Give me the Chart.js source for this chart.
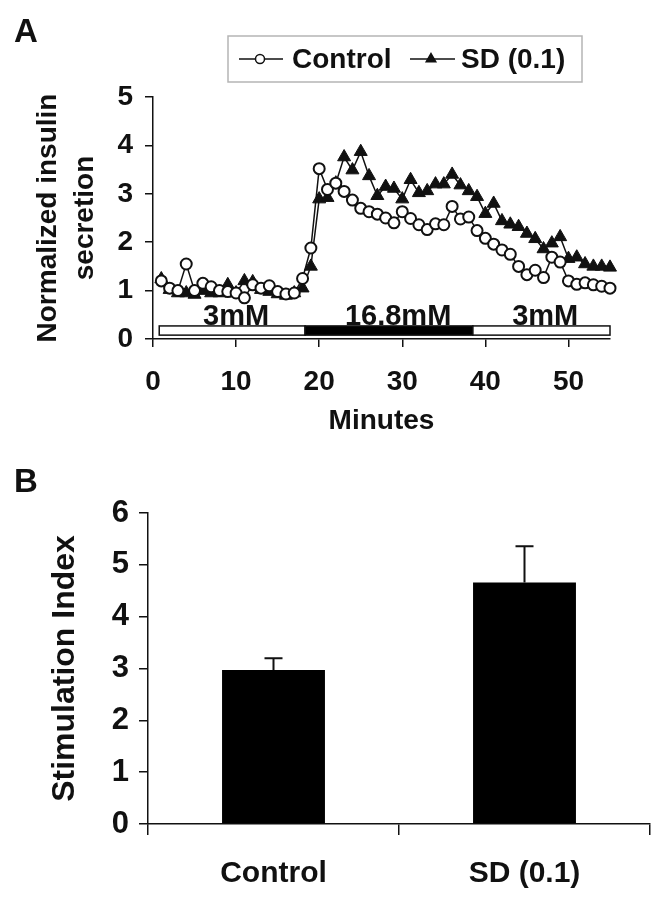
<!DOCTYPE html>
<html lang="en">
<head>
    <meta charset="UTF-8">
    <title>Insulin secretion</title>
    <style>
        body {
            margin: 0;
            background-color: #fff;
        }

        .panel {
            position: absolute;
            left: 0;
            width: 665px;
        }

        #panelA { top: 0; height: 450px; }
        #panelB { top: 450px; height: 460px; }
    </style>
</head>
<body>
    <div class="panel" id="panelA"><canvas id="perifusionChart"></canvas></div>
    <div class="panel" id="panelB"><canvas id="stimulationChart"></canvas></div>

    <script src="https://cdn.jsdelivr.net/npm/chart.js"></script>
    <script>
        // Panel A: perifusion time course
        const minutes = [1, 2, 3, 4, 5, 6, 7, 8, 9, 10, 11, 12, 13, 14, 15, 16, 17, 18, 19, 20,
            21, 22, 23, 24, 25, 26, 27, 28, 29, 30, 31, 32, 33, 34, 35, 36, 37, 38, 39, 40,
            41, 42, 43, 44, 45, 46, 47, 48, 49, 50, 51, 52, 53, 54, 55];
        const minuteTicks = [0, 10, 20, 30, 40, 50];
        const controlSecretion = [1.20, 1.05, 1.00, 1.55, 1.00, 1.15, 1.08, 1.00, 0.98, 0.95,
            0.85, 1.12, 1.05, 1.10, 0.98, 0.93, 0.95, 1.25, 1.88, 3.52,
            3.09, 3.22, 3.05, 2.87, 2.70, 2.63, 2.58, 2.50, 2.40, 2.63,
            2.49, 2.36, 2.26, 2.38, 2.36, 2.74, 2.48, 2.52, 2.24, 2.08,
            1.96, 1.84, 1.75, 1.50, 1.33, 1.42, 1.27, 1.69, 1.59, 1.20,
            1.13, 1.16, 1.12, 1.09, 1.05];
        const sdSecretion = [1.24, 1.02, 0.95, 0.95, 0.92, 1.00, 0.95, 0.95, 1.12, 0.95,
            1.20, 1.18, 1.02, 0.98, 0.93, 0.90, 0.95, 1.05, 1.50, 2.89,
            2.92, 3.22, 3.76, 3.49, 3.87, 3.37, 2.96, 3.15, 3.11, 2.89,
            3.29, 3.02, 3.06, 3.20, 3.20, 3.40, 3.18, 3.06, 2.94, 2.59,
            2.80, 2.44, 2.37, 2.32, 2.18, 2.07, 1.86, 1.98, 2.11, 1.66,
            1.69, 1.55, 1.50, 1.50, 1.48];

        // glucose bar under the traces
        const glucoseStart = [0.75, 18.3, 38.5];
        const glucoseEnd = [18.3, 38.5, 55];
        const glucoseFill = ['#ffffff', '#000000', '#ffffff'];
        const glucoseLabels = ['3mM', '16.8mM', '3mM'];
        const glucoseLabelAt = [10, 29.5, 47.2];
        const glucoseBarRange = [0.08, 0.27];

        // Panel B: stimulation index
        const groups = ['Control', 'SD (0.1)'];
        const stimIndex = [2.97, 4.66];
        const stimError = [0.23, 0.70];

        const FONT = "'Liberation Sans', Arial, sans-serif";
        const INK = '#111';

        const panelLetter = letter => ({
            id: 'panelLetter' + letter,
            afterDraw(chart) {
                const ctx = chart.ctx;
                ctx.save();
                ctx.font = 'bold 33px ' + FONT;
                ctx.fillStyle = INK;
                ctx.textBaseline = 'alphabetic';
                ctx.fillText(letter, 14, 42);
                ctx.restore();
            }
        });

        const glucoseBar = {
            id: 'glucoseBar',
            afterDatasetsDraw(chart) {
                const { ctx, scales: { x, y } } = chart;
                const top = y.getPixelForValue(glucoseBarRange[1]);
                const bottom = y.getPixelForValue(glucoseBarRange[0]);
                ctx.save();
                ctx.lineWidth = 1.5;
                ctx.strokeStyle = INK;
                glucoseStart.forEach((start, i) => {
                    const left = x.getPixelForValue(start);
                    const right = x.getPixelForValue(glucoseEnd[i]);
                    ctx.fillStyle = glucoseFill[i];
                    ctx.fillRect(left, top, right - left, bottom - top);
                    ctx.strokeRect(left, top, right - left, bottom - top);
                });
                ctx.font = 'bold 29px ' + FONT;
                ctx.fillStyle = INK;
                ctx.textAlign = 'center';
                ctx.textBaseline = 'alphabetic';
                glucoseLabels.forEach((label, i) => {
                    ctx.fillText(label, x.getPixelForValue(glucoseLabelAt[i]), top - 1);
                });
                ctx.restore();
            }
        };

        // boxed legend with line + marker samples
        const boxedLegend = {
            id: 'boxedLegend',
            afterDraw(chart) {
                const ctx = chart.ctx;
                ctx.save();
                ctx.strokeStyle = '#b5b5b5';
                ctx.lineWidth = 1.5;
                ctx.strokeRect(228, 36, 354, 46);
                const cy = 59;
                const samples = [
                    { x0: 239, x1: 283, mark: 260, text: 292, r: 4.5 },
                    { x0: 410, x1: 455, mark: 431, text: 461, r: 5.5 }
                ];
                chart.data.datasets.forEach((ds, i) => {
                    const s = samples[i];
                    ctx.strokeStyle = INK;
                    ctx.lineWidth = 1.5;
                    ctx.beginPath();
                    ctx.moveTo(s.x0, cy);
                    ctx.lineTo(s.x1, cy);
                    ctx.stroke();
                    ctx.fillStyle = ds.pointBackgroundColor;
                    ctx.strokeStyle = ds.pointBorderColor;
                    Chart.helpers.drawPoint(ctx, {
                        pointStyle: ds.pointStyle,
                        radius: s.r,
                        rotation: 0,
                        borderWidth: 1.5
                    }, s.mark, cy);
                    ctx.fillStyle = INK;
                    ctx.font = 'bold 28px ' + FONT;
                    ctx.textBaseline = 'middle';
                    ctx.fillText(ds.label, s.text, cy + 1);
                });
                ctx.restore();
            }
        };

        const errorBars = {
            id: 'errorBars',
            afterDatasetsDraw(chart) {
                const { ctx, scales: { y } } = chart;
                const meta = chart.getDatasetMeta(0);
                ctx.save();
                ctx.strokeStyle = INK;
                ctx.lineWidth = 2;
                meta.data.forEach((bar, i) => {
                    const top = y.getPixelForValue(stimIndex[i] + stimError[i]);
                    ctx.beginPath();
                    ctx.moveTo(bar.x, bar.y);
                    ctx.lineTo(bar.x, top);
                    ctx.moveTo(bar.x - 9, top);
                    ctx.lineTo(bar.x + 9, top);
                    ctx.stroke();
                });
                ctx.restore();
            }
        };

        const axisLine = { color: INK, width: 1.5 };
        const tickMarks = len => ({ drawOnChartArea: false, color: INK, lineWidth: 1.5, tickLength: len });

        new Chart(document.getElementById('perifusionChart'), {
            type: 'line',
            data: {
                datasets: [{
                    label: 'Control',
                    data: minutes.map((m, i) => ({ x: m, y: controlSecretion[i] })),
                    borderColor: INK,
                    borderWidth: 1.5,
                    pointStyle: 'circle',
                    pointRadius: 5.5,
                    pointBorderWidth: 2,
                    pointBackgroundColor: '#ffffff',
                    pointBorderColor: INK,
                    clip: false,
                    order: 0
                }, {
                    label: 'SD (0.1)',
                    data: minutes.map((m, i) => ({ x: m, y: sdSecretion[i] })),
                    borderColor: INK,
                    borderWidth: 1.5,
                    pointStyle: 'triangle',
                    pointRadius: 7.5,
                    pointBorderWidth: 1,
                    pointBackgroundColor: INK,
                    pointBorderColor: INK,
                    clip: false,
                    order: 1
                }]
            },
            options: {
                responsive: true,
                maintainAspectRatio: false,
                animation: false,
                layout: { padding: { top: 97, right: 55, bottom: 0, left: 0 } },
                plugins: { legend: { display: false }, tooltip: { enabled: false } },
                scales: {
                    x: {
                        type: 'linear',
                        min: 0,
                        max: 55,
                        border: axisLine,
                        grid: tickMarks(8),
                        ticks: { color: INK, padding: 18, font: { family: FONT, size: 28, weight: 'bold' } },
                        afterBuildTicks: s => { s.ticks = minuteTicks.map(v => ({ value: v })); },
                        afterFit: s => { s.height = 111; },
                        title: {
                            display: true,
                            text: 'Minutes',
                            color: INK,
                            padding: { top: 0, bottom: 12 },
                            font: { family: FONT, size: 28, weight: 'bold' }
                        }
                    },
                    y: {
                        min: 0,
                        max: 5,
                        border: axisLine,
                        grid: tickMarks(8),
                        ticks: { stepSize: 1, color: INK, padding: 12, font: { family: FONT, size: 28, weight: 'bold' } },
                        afterFit: s => { s.width = 153; },
                        title: {
                            display: true,
                            text: ['Normalized insulin', 'secretion'],
                            color: INK,
                            padding: { top: 29, bottom: 0 },
                            font: { family: FONT, size: 28, weight: 'bold', lineHeight: 1.35 }
                        }
                    }
                }
            },
            plugins: [glucoseBar, boxedLegend, panelLetter('A')]
        });

        new Chart(document.getElementById('stimulationChart'), {
            type: 'bar',
            data: {
                labels: groups,
                datasets: [{
                    label: 'Stimulation Index',
                    data: stimIndex,
                    backgroundColor: '#000000',
                    borderWidth: 0,
                    categoryPercentage: 1,
                    barPercentage: 0.41
                }]
            },
            options: {
                responsive: true,
                maintainAspectRatio: false,
                animation: false,
                layout: { padding: { top: 63, right: 15, bottom: 0, left: 0 } },
                plugins: { legend: { display: false }, tooltip: { enabled: false } },
                scales: {
                    x: {
                        border: axisLine,
                        grid: tickMarks(11),
                        ticks: { color: INK, padding: 21, font: { family: FONT, size: 30, weight: 'bold' } },
                        afterFit: s => { s.height = 86; }
                    },
                    y: {
                        min: 0,
                        max: 6,
                        border: axisLine,
                        grid: tickMarks(9),
                        ticks: { stepSize: 1, color: INK, padding: 10, font: { family: FONT, size: 31, weight: 'bold' } },
                        afterFit: s => { s.width = 148; },
                        title: {
                            display: true,
                            text: 'Stimulation Index',
                            color: INK,
                            padding: { top: 46, bottom: 0 },
                            font: { family: FONT, size: 32, weight: 'bold' }
                        }
                    }
                }
            },
            plugins: [errorBars, panelLetter('B')]
        });
    </script>
</body>
</html>
